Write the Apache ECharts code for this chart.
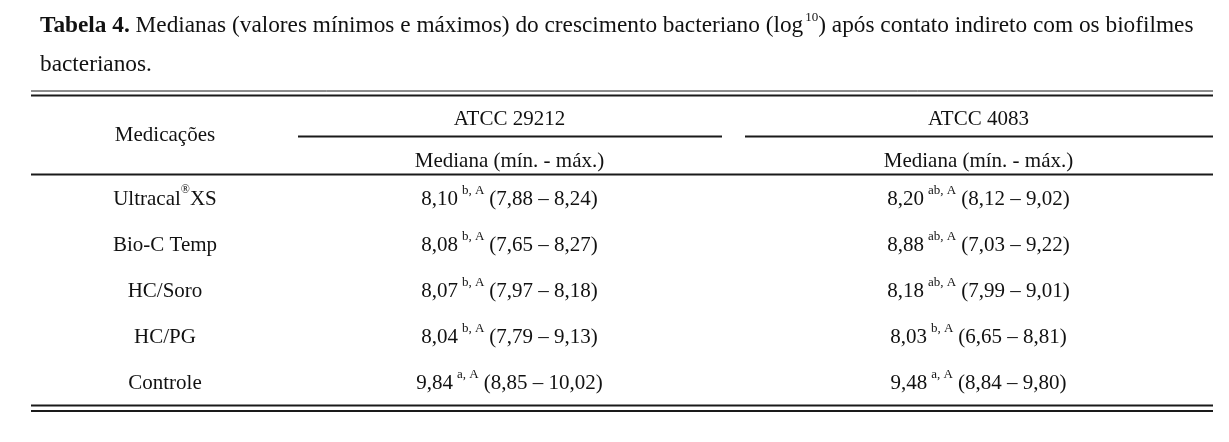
<!DOCTYPE html>
<html><head><meta charset="utf-8">
<script src="https://cdn.jsdelivr.net/npm/echarts@6/dist/echarts.min.js"></script>
<style>html,body{margin:0;padding:0;background:#fff}#c{width:1229px;height:442px}</style>
</head><body><div id="c"></div>
<script>
// ---- data ----
const medications = ['Ultracal®XS', 'Bio-C Temp', 'HC/Soro', 'HC/PG', 'Controle'];
const strains = ['ATCC 29212', 'ATCC 4083'];
const subHeader = 'Mediana (mín. - máx.)';
const firstColHeader = 'Medicações';
const median29212 = [8.10, 8.08, 8.07, 8.04, 9.84];
const min29212 = [7.88, 7.65, 7.97, 7.79, 8.85];
const max29212 = [8.24, 8.27, 8.18, 9.13, 10.02];
const letters29212 = ['b, A', 'b, A', 'b, A', 'b, A', 'a, A'];
const median4083 = [8.20, 8.88, 8.18, 8.03, 9.48];
const min4083 = [8.12, 7.03, 7.99, 6.65, 8.84];
const max4083 = [9.02, 9.22, 9.01, 8.81, 9.80];
const letters4083 = ['ab, A', 'ab, A', 'ab, A', 'b, A', 'a, A'];

// ---- styles ----
const FF = '"Liberation Serif", "Times New Roman", serif';
const TXT = '#111';
const BODY = 21;
const TITLE = 23.3;
const RULE = '#1a1a1a';
const fmt = v => v.toFixed(2).replace('.', ',');

const cellRich = {
  v: { fontFamily: FF, fontSize: BODY, color: TXT, lineHeight: 30 },
  s: { fontFamily: FF, fontSize: 13, color: TXT, verticalAlign: 'top', lineHeight: 21, padding: [0, 5, 0, 4] }
};

function cellSeries(axisCat, med, mn, mx, let_) {
  return {
    type: 'scatter',
    symbol: 'circle',
    symbolSize: 1,
    itemStyle: { color: 'rgba(0,0,0,0)', opacity: 1 },
    silent: true,
    data: medications.map(m => [axisCat, m]),
    label: {
      show: true,
      opacity: 1,
      position: 'inside',
      color: TXT,
      textBorderWidth: 0,
      formatter: p => {
        const i = p.dataIndex;
        return '{v|' + fmt(med[i]) + '}{s|' + let_[i] + '}{v|(' + fmt(mn[i]) + ' – ' + fmt(mx[i]) + ')}';
      },
      rich: cellRich
    }
  };
}

function hline(x1, x2, y, w) {
  return { type: 'line', silent: true, shape: { x1: x1, y1: y, x2: x2, y2: y }, style: { stroke: RULE, lineWidth: w } };
}

const chart = echarts.init(document.getElementById('c'), null, { renderer: 'canvas' });
chart.setOption({
  backgroundColor: '#fff',
  animation: false,
  title: {
    left: 40, top: 6, padding: 0,
    text: '{b|Tabela 4.} Medianas (valores mínimos e máximos) do crescimento bacteriano (log{sup|10}) após contato indireto com os biofilmes\nbacterianos.',
    textStyle: {
      fontFamily: FF, fontSize: TITLE, fontWeight: 'normal', color: TXT, lineHeight: 39.5,
      rich: {
        b: { fontFamily: FF, fontSize: TITLE, fontWeight: 'bold', color: TXT, lineHeight: 39.5 },
        sup: { fontFamily: FF, fontSize: 13, color: TXT, padding: [0, 0, 16, 2] }
      }
    }
  },
  grid: { left: 275, right: 16, top: 176, bottom: 36, outerBoundsMode: 'none', containLabel: false },
  xAxis: [
    {
      type: 'category', position: 'top', data: strains,
      axisLine: { show: false }, axisTick: { show: false }, splitLine: { show: false },
      axisLabel: { margin: 57, verticalAlign: 'middle', fontFamily: FF, fontSize: BODY, color: TXT, interval: 0 }
    },
    {
      type: 'category', position: 'top', data: strains,
      axisLine: { show: false }, axisTick: { show: false }, splitLine: { show: false },
      axisLabel: { margin: 15, verticalAlign: 'middle', fontFamily: FF, fontSize: BODY, color: TXT, interval: 0,
        formatter: () => subHeader }
    }
  ],
  yAxis: {
    type: 'category', inverse: true, data: medications,
    axisLine: { show: false }, axisTick: { show: false }, splitLine: { show: false },
    axisLabel: {
      margin: 110, align: 'center', fontFamily: FF, fontSize: BODY, color: TXT, lineHeight: 30, interval: 0,
      formatter: v => v.replace('®', '{sup|®}'),
      rich: { sup: { fontFamily: FF, fontSize: 12, color: TXT, verticalAlign: 'top', lineHeight: 20 } }
    }
  },
  series: [
    cellSeries(strains[0], median29212, min29212, max29212, letters29212),
    cellSeries(strains[1], median4083, min4083, max4083, letters4083)
  ],
  graphic: [
    hline(31, 1213, 91, 1),
    hline(31, 1213, 95.5, 2),
    hline(298, 722, 136.5, 2),
    hline(745, 1213, 136.5, 2),
    hline(31, 1213, 174.5, 2),
    hline(31, 1213, 405.5, 2),
    hline(31, 1213, 411, 2),
    {
      type: 'text', x: 165, y: 135.5, silent: true,
      style: { text: firstColHeader, font: BODY + 'px ' + FF, fontFamily: FF, fontSize: BODY, fill: TXT,
        align: 'center', verticalAlign: 'middle', textAlign: 'center', textVerticalAlign: 'middle' }
    }
  ]
});
</script>
</body></html>
